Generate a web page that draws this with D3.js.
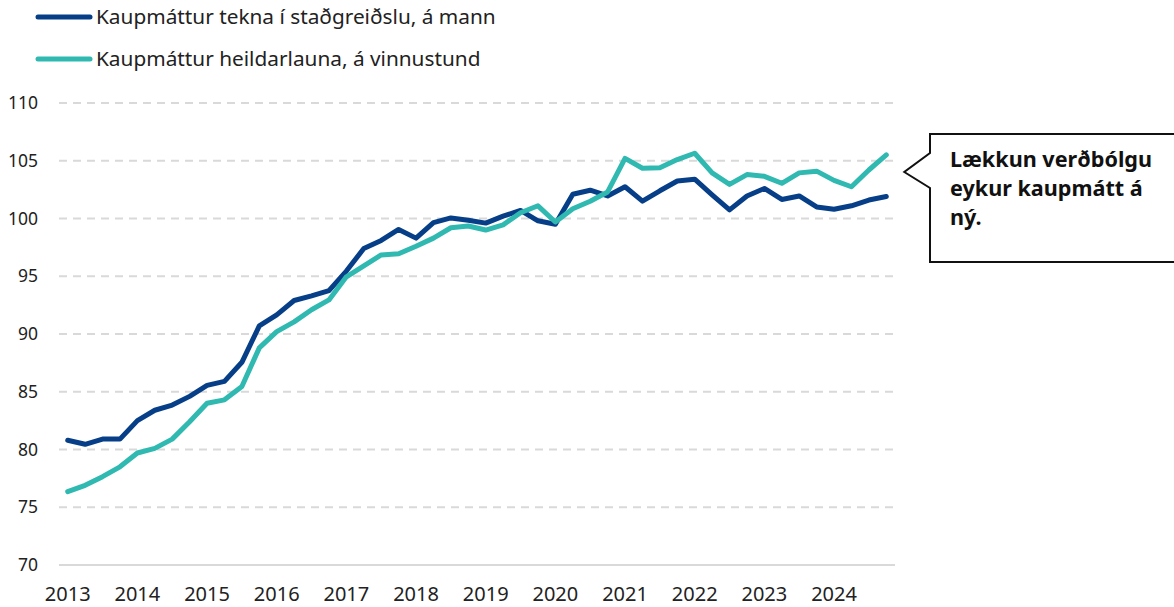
<!DOCTYPE html>
<html>
<head>
<meta charset="utf-8">
<script src="https://cdn.jsdelivr.net/npm/d3@7"></script>
<style>
  body { margin: 0; background: #fff; }
  svg text { font-family: "Noto Sans", sans-serif; fill: #222; }
</style>
</head>
<body>
<div id="chart"></div>
<script>
// years on the x axis, one point per quarter
const years = [2013, 2014, 2015, 2016, 2017, 2018, 2019, 2020, 2021, 2022, 2023, 2024];
const yTicks = [70, 75, 80, 85, 90, 95, 100, 105, 110];

const seriesNames = [
  'Kaupmáttur tekna í staðgreiðslu, á mann',
  'Kaupmáttur heildarlauna, á vinnustund'
];

// Kaupmáttur tekna í staðgreiðslu, á mann
const incomeValues = [
  80.8, 80.45, 80.9, 80.9, 82.5, 83.4, 83.85, 84.6, 85.55, 85.9,
  87.55, 90.7, 91.65, 92.9, 93.3, 93.75, 95.45, 97.4, 98.1, 99.05,
  98.3, 99.65, 100.05, 99.85, 99.6, 100.2, 100.7, 99.8, 99.5, 102.1,
  102.45, 101.95, 102.75, 101.5, 102.4, 103.25, 103.4, 102.05, 100.75, 101.95,
  102.6, 101.65, 101.95, 101.0, 100.8, 101.1, 101.6, 101.9
];

// Kaupmáttur heildarlauna, á vinnustund
const wageValues = [
  76.35, 76.9, 77.65, 78.5, 79.7, 80.1, 80.9, 82.4, 84.0, 84.3,
  85.45, 88.8, 90.2, 91.05, 92.1, 92.95, 94.95, 95.9, 96.85, 96.95,
  97.6, 98.3, 99.2, 99.35, 99.0, 99.45, 100.5, 101.1, 99.7, 100.85,
  101.5, 102.3, 105.2, 104.35, 104.4, 105.1, 105.65, 103.95, 102.95, 103.8,
  103.65, 103.05, 103.95, 104.1, 103.3, 102.75, 104.2, 105.5
];

const annotation = ['Lækkun verðbólgu', 'eykur kaupmátt á', 'ný.'];

const colors = ['#063f87', '#2fb9b1'];

const quarters = [];
years.forEach(y => [1, 2, 3, 4].forEach(q => quarters.push(y + 'Q' + q)));

const width = 1174, height = 607;
const margin = { top: 103, right: 279, bottom: 42, left: 59 };

const svg = d3.select('#chart').append('svg')
  .attr('width', width)
  .attr('height', height);

const x = d3.scaleBand()
  .domain(quarters)
  .range([margin.left, width - margin.right]);

const y = d3.scaleLinear()
  .domain([70, 110])
  .range([height - margin.bottom, margin.top]);

const cx = q => x(q) + x.bandwidth() / 2;

// gridlines
svg.append('g')
  .selectAll('line')
  .data(yTicks)
  .join('line')
  .attr('x1', margin.left)
  .attr('x2', width - margin.right)
  .attr('y1', d => y(d))
  .attr('y2', d => y(d))
  .attr('stroke', '#d9d9d9')
  .attr('stroke-width', 2)
  .attr('stroke-dasharray', d => d === 70 ? null : '8,6');

// y tick labels
svg.append('g')
  .selectAll('text')
  .data(yTicks)
  .join('text')
  .attr('x', 38)
  .attr('y', d => y(d))
  .attr('dy', '0.35em')
  .attr('text-anchor', 'end')
  .style('font-size', '17.5px')
  .text(d => d);

// x axis labels at first quarter of each year
svg.append('g')
  .selectAll('text')
  .data(years)
  .join('text')
  .attr('x', d => cx(d + 'Q1'))
  .attr('y', 601)
  .attr('text-anchor', 'middle')
  .style('font-size', '20px')
  .text(d => d);

const line = d3.line()
  .x((d, i) => cx(quarters[i]))
  .y(d => y(d));

[incomeValues, wageValues].forEach((vals, k) => {
  svg.append('path')
    .datum(vals)
    .attr('d', line)
    .attr('fill', 'none')
    .attr('stroke', colors[k])
    .attr('stroke-width', 5)
    .attr('stroke-linejoin', 'round')
    .attr('stroke-linecap', 'round');
});

// legend
const legend = svg.append('g');
seriesNames.forEach((name, k) => {
  const ly = 17 + k * 42;
  legend.append('line')
    .attr('x1', 38).attr('x2', 90)
    .attr('y1', ly).attr('y2', ly)
    .attr('stroke', colors[k])
    .attr('stroke-width', 5)
    .attr('stroke-linecap', 'round');
  legend.append('text')
    .attr('x', 96)
    .attr('y', ly)
    .attr('dy', '0.36em')
    .style('font-size', '20.8px')
    .text(name);
});

// callout box
const boxX = 930, boxTop = 134, boxBottom = 262;
const tipX = cx(quarters[quarters.length - 1]) + 18;
const tipY = 172;
svg.append('path')
  .attr('d', `M${boxX},${boxTop} L${width + 10},${boxTop} L${width + 10},${boxBottom} L${boxX},${boxBottom}
    L${boxX},${tipY + 16} L${tipX},${tipY} L${boxX},${tipY - 19} Z`)
  .attr('fill', '#fff')
  .attr('stroke', '#111')
  .attr('stroke-width', 2);

svg.append('g')
  .selectAll('text')
  .data(annotation)
  .join('text')
  .attr('x', 950)
  .attr('y', (d, i) => 167 + i * 29)
  .style('font-size', '21.6px')
  .style('font-weight', 'bold')
  .style('fill', '#111')
  .text(d => d);
</script>
</body>
</html>
